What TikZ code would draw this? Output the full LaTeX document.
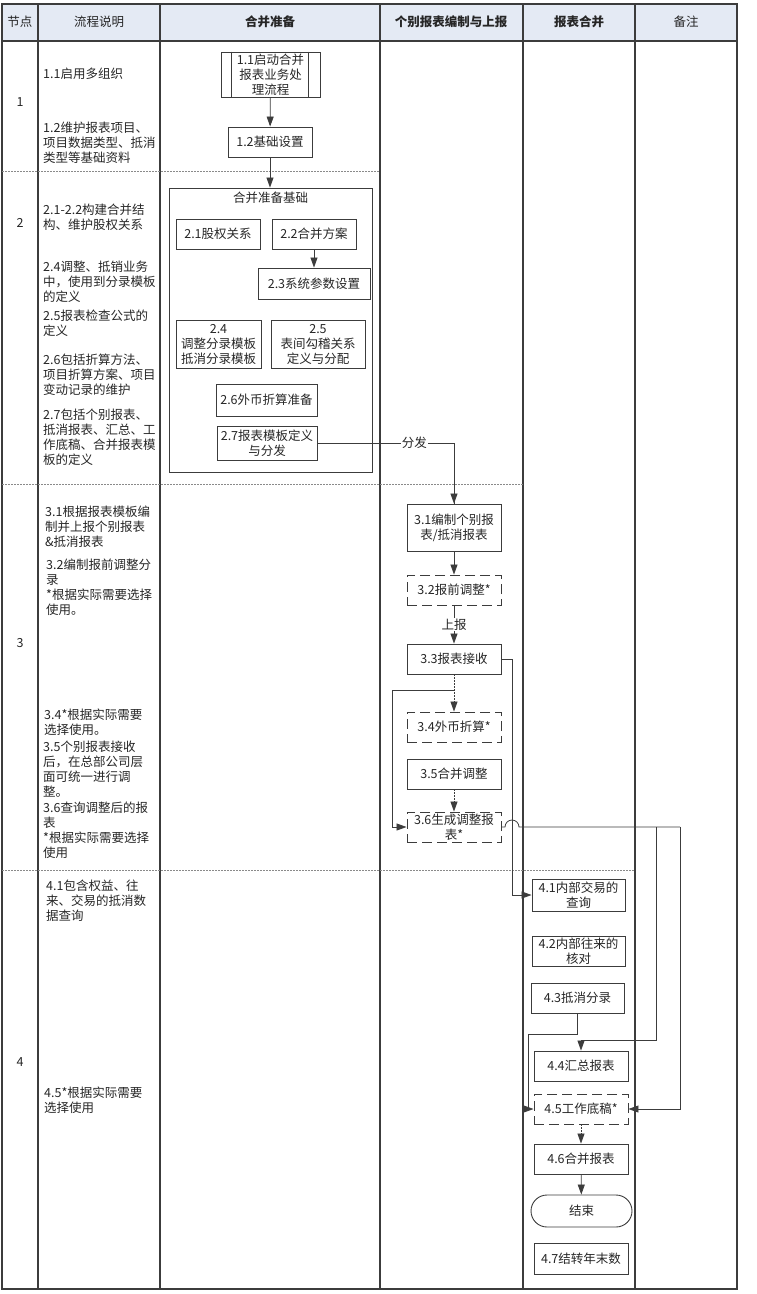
\documentclass[tikz,border=0pt]{standalone}
\usepackage{fontspec}
\setmainfont{Noto Sans CJK SC}
\usetikzlibrary{arrows.meta}
\definecolor{headbg}{HTML}{E4EAF4}
\definecolor{rule}{HTML}{3C3C3C}
\definecolor{ink}{HTML}{262626}
\definecolor{sepgray}{HTML}{8A8A8A}
\tikzset{
    box/.style={draw=rule, line width=0.9pt, text=ink, align=center, inner xsep=1pt, inner ysep=0.5pt, minimum width=94pt, minimum height=30pt},
    dbox/.style={box, dash pattern=on 10pt off 5pt},
    link/.style={draw=rule, line width=0.8pt},
    arr/.style={link, -{Triangle[length=10pt,width=7pt]}},
    dots/.style={dash pattern=on 1.5pt off 1.5pt},
    note/.style={anchor=north west, align=left, inner sep=0pt, text=ink},
    head/.style={text=ink},
    grid/.style={rule, line width=1.2pt},
    rowsep/.style={sepgray, line width=1pt, dash pattern=on 1.5pt off 1.5pt},
}
\begin{document}
\begin{tikzpicture}[x=1pt, y=-1pt, every node/.append style={font=\fontsize{12.5}{15}\selectfont}]
        \useasboundingbox (0,0) rectangle (757,1294);
        \fill [headbg] (2,4) rectangle (737,41);
        \draw [grid] (2,4) rectangle (737,1289);
        \draw [grid] (2,41) -- (737,41);
        \foreach \x in {38,160,380,523,635}
            \draw [grid] (\x,4) -- (\x,1289);
        \draw [rowsep] (2,171) -- (380,171);
        \draw [rowsep] (2,484) -- (523,484);
        \draw [rowsep] (2,870) -- (635,870);

        \node [head] (h1) at (20,22) {节点};
        \node [head] (h2) at (99,22) {流程说明};
        \node [head, font=\fontsize{12.5}{15}\selectfont\bfseries] (h3) at (270,22) {合并准备};
        \node [head, font=\fontsize{12.5}{15}\selectfont\bfseries] (h4) at (451,22) {个别报表编制与上报};
        \node [head, font=\fontsize{12.5}{15}\selectfont\bfseries] (h5) at (579,22) {报表合并};
        \node [head] (h6) at (686,22) {备注};

        \node [head] (r1) at (20,102) {1};
        \node [head] (r2) at (20,223) {2};
        \node [head] (r3) at (20,643) {3};
        \node [head] (r4) at (20,1062) {4};

        \node [note] (t11) at (43,67.5) {1.1启用多组织};
        \node [note] (t12) at (43,121.5) {1.2维护报表项目、\\项目数据类型、抵消\\类型等基础资料};
        \node [note] (t21) at (43,203.5) {2.1-2.2构建合并结\\构、维护股权关系};
        \node [note] (t24) at (43,260.5) {2.4调整、抵销业务\\中，使用到分录模板\\的定义};
        \node [note] (t25) at (43,309.5) {2.5报表检查公式的\\定义};
        \node [note] (t26) at (43,353.5) {2.6包括折算方法、\\项目折算方案、项目\\变动记录的维护};
        \node [note] (t27) at (43,408.5) {2.7包括个别报表、\\抵消报表、汇总、工\\作底稿、合并报表模\\板的定义};
        \node [note] (t31) at (45,505.5) {3.1根据报表模板编\\制并上报个别报表\\\&抵消报表};
        \node [note] (t32) at (46,558.5) {3.2编制报前调整分\\录\\*根据实际需要选择\\使用。};
        \node [note] (t34) at (44,708.5) {3.4*根据实际需要\\选择使用。};
        \node [note] (t35) at (43,740.5) {3.5个别报表接收\\后，在总部公司层\\面可统一进行调\\整。};
        \node [note] (t36) at (43,801.5) {3.6查询调整后的报\\表\\*根据实际需要选择\\使用};
        \node [note] (t41) at (46,879.5) {4.1包含权益、往\\来、交易的抵消数\\据查询};
        \node [note] (t45) at (44,1086.5) {4.5*根据实际需要\\选择使用};

        \node [box, minimum width=99pt, minimum height=45pt] (n11) at (270.5,74.5) {1.1启动合并\\报表业务处\\理流程};
        \draw [link] ([xshift=11pt]n11.north west) -- ([xshift=11pt]n11.south west);
        \draw [link] ([xshift=-12pt]n11.north east) -- ([xshift=-12pt]n11.south east);
        \node [box, minimum width=84pt] (n12) at (270,142) {1.2基础设置};
        \node [box, minimum width=203pt, minimum height=284pt] (jichu) at (270.5,330) {};
        \node [head] (jtitle) at (270.5,198) {合并准备基础};
        \node [box, minimum width=84pt] (n21) at (218,234) {2.1股权关系};
        \node [box, minimum width=84pt] (n22) at (314,234) {2.2合并方案};
        \node [box, minimum width=112pt, minimum height=31pt] (n23) at (314,283.5) {2.3系统参数设置};
        \node [box, minimum width=85pt, minimum height=48pt] (n24) at (218.5,344) {2.4\\调整分录模板\\抵消分录模板};
        \node [box, minimum width=94pt, minimum height=48pt] (n25) at (318,344) {2.5\\表间勾稽关系\\定义与分配};
        \node [box, minimum width=101pt, minimum height=32pt] (n26) at (266.5,400) {2.6外币折算准备};
        \node [box, minimum width=100pt, minimum height=34pt] (n27) at (267,443) {2.7报表模板定义\\与分发};

        \node [box, minimum height=47pt] (n31) at (454,527.5) {3.1编制个别报\\表/抵消报表};
        \node [dbox] (n32) at (454,590) {3.2报前调整*};
        \node [box] (n33) at (454,659) {3.3报表接收};
        \node [dbox] (n34) at (454,727) {3.4外币折算*};
        \node [box] (n35) at (454,774) {3.5合并调整};
        \node [dbox] (n36) at (454,827) {3.6生成调整报\\表*};

        \node [box, minimum width=93pt, minimum height=32pt] (n41) at (578.5,895) {4.1内部交易的\\查询};
        \node [box, minimum width=93pt] (n42) at (578.5,951) {4.2内部往来的\\核对};
        \node [box, minimum width=93pt] (n43) at (577.5,998) {4.3抵消分录};
        \node [box] (n44) at (581,1066) {4.4汇总报表};
        \node [dbox] (n45) at (581,1109) {4.5工作底稿*};
        \node [box] (n46) at (581,1159) {4.6合并报表};
        \node [box, minimum width=101pt, minimum height=32pt, rounded corners=16pt] (jieshu) at (581.5,1211) {结束};
        \node [box, minimum height=31pt] (n47) at (581,1258.5) {4.7结转年末数};

        \coordinate (lx) at (392,0);
        \coordinate (cx) at (512,0);
        \coordinate (rx1) at (656,0);
        \coordinate (rx2) at (680,0);
        \coordinate (lx4) at (528,0);
        \coordinate (br) at ([yshift=-16pt]n33.south);

        \draw [arr] (n11) -- (n12);
        \draw [arr] (n12.south) -- (n12.south |- jichu.north);
        \draw [arr] (n22) -- (n23);
        \draw [link] (n27.east) -| node [pos=0.355, fill=white, inner sep=1pt, text=ink] (fenfa) {分发} (n31.north);
        \draw [arr] ([yshift=10pt]n31.north) -- (n31.north);
        \draw [arr] (n31) -- (n32);
        \draw [arr] (n32) -- node [fill=white, inner sep=1pt, text=ink] (shangbao) {上报} (n33);
        \draw [arr, dots] (n33) -- (n34);
        \draw [arr] (br) -| (lx |- n36.west) -- (n36.west);
        \draw [arr, dots] (n35) -- (n36);
        \draw [arr] (n33.east) -- (n33.east -| cx) |- (n41.west);
        \draw [link] (n36.east) -- ([xshift=-7pt]n36.east -| cx) arc [start angle=180, end angle=0, radius=7pt] -- (n36.east -| rx2);
        \draw [arr] (n36.east -| rx2) |- (n45.east);
        \draw [arr] (n36.east -| rx1) |- ([yshift=10pt]n44.north) -- (n44.north);
        \draw [arr] (n43.south) -- ++(0,21) -| (lx4 |- n45.west) -- (n45.west);
        \draw [arr, dots] (n45) -- (n46);
        \draw [arr] (n46) -- (jieshu);
\end{tikzpicture}
\end{document}
